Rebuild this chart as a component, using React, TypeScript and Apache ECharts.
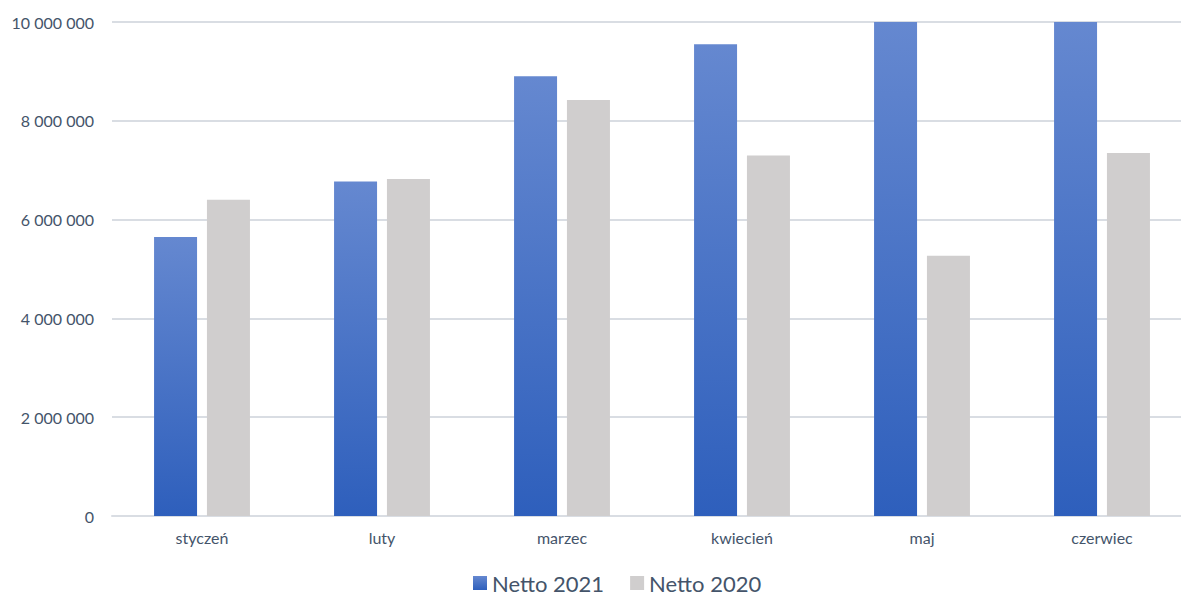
import React, { useEffect, useRef } from "react";
import * as echarts from "echarts";

const categories = ["styczeń", "luty", "marzec", "kwiecień", "maj", "czerwiec"];
const netto2021 = [5650000, 6770000, 8900000, 9550000, 10400000, 10600000];
const netto2020 = [6400000, 6820000, 8420000, 7300000, 5270000, 7350000];
const seriesNames = ["Netto 2021", "Netto 2020"];

const fmt = (v: number) => String(Math.round(v)).replace(/\B(?=(\d{3})+(?!\d))/g, " ");

export default function App() {
  const ref = useRef<HTMLDivElement>(null);
  useEffect(() => {
    document.body.style.margin = "0";
    document.body.style.overflow = "hidden";
    const chart = echarts.init(ref.current!, null, { renderer: "svg" });
    const font = "Lato, 'Open Sans', sans-serif";
    chart.setOption({
      animation: false,
      grid: {
        left: 112,
        right: -11,
        top: 22,
        bottom: 80,
        containLabel: false,
        outerBoundsMode: "none",
      },
      legend: {
        bottom: 2,
        left: 473,
        padding: 0,
        itemWidth: 14,
        itemHeight: 14,
        itemGap: 26,
        icon: "rect",
        textStyle: { fontFamily: font, fontSize: 22, color: "#44546a" },
        data: seriesNames,
      },
      xAxis: {
        type: "category",
        data: categories,
        axisLine: { lineStyle: { color: "#d9dde3", width: 2 } },
        axisTick: { show: false },
        axisLabel: { fontFamily: font, fontSize: 16, color: "#44546a", margin: 13 },
      },
      yAxis: {
        type: "value",
        min: 0,
        max: 10000000,
        interval: 2000000,
        axisLine: { show: false },
        axisTick: { show: false },
        splitLine: { lineStyle: { color: "#d9dde3", width: 2 } },
        axisLabel: {
          fontFamily: font,
          fontSize: 16,
          color: "#44546a",
          margin: 18,
          formatter: (v: number) => fmt(v),
        },
      },
      series: [
        {
          name: seriesNames[0],
          type: "bar",
          data: netto2021,
          barWidth: 43,
          barGap: "23%",
          clip: true,
          itemStyle: {
            color: new echarts.graphic.LinearGradient(0, 0, 0, 1, [
              { offset: 0, color: "#6588d0" },
              { offset: 1, color: "#2e5fbc" },
            ]),
          },
        },
        {
          name: seriesNames[1],
          type: "bar",
          data: netto2020,
          barWidth: 43,
          clip: true,
          itemStyle: { color: "#d0cece" },
        },
      ],
    });
    return () => chart.dispose();
  }, []);
  return <div ref={ref} style={{ width: 1181, height: 596, overflow: "hidden" }} />;
}
